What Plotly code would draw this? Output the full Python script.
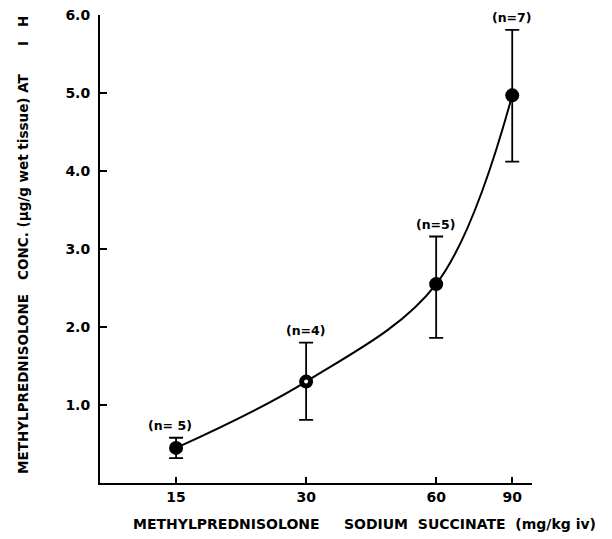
import numpy as np
import plotly.graph_objects as go

dose = [15, 30, 60, 90]
conc = [0.45, 1.30, 2.55, 4.97]
err_plus = [0.13, 0.50, 0.61, 0.84]
err_minus = [0.13, 0.49, 0.69, 0.85]
n_labels = ["(n= 5)", "(n=4)", "(n=5)", "(n=7)"]
x_ticks = [15, 30, 60, 90]
x_ticktext = ["15", "30", "60", "90"]
y_ticks = [1, 2, 3, 4, 5, 6]
y_ticktext = ["1.0", "2.0", "3.0", "4.0", "5.0", "6.0"]

FONT = "DejaVu Sans"
NB = "\u00a0"

fig = go.Figure()
fig.add_trace(go.Scatter(
    x=dose, y=conc, mode="lines",
    line=dict(color="black", width=2, shape="spline", smoothing=1.0),
    hoverinfo="skip", showlegend=False))
fig.add_trace(go.Scatter(
    x=dose, y=conc, mode="markers",
    marker=dict(color="black", size=14, line=dict(width=0)),
    error_y=dict(type="data", symmetric=False, array=err_plus, arrayminus=err_minus,
                 color="black", thickness=1.8, width=7),
    showlegend=False))
fig.add_trace(go.Scatter(
    x=[dose[1]], y=[conc[1]], mode="markers",
    marker=dict(color="white", size=4), showlegend=False, hoverinfo="skip"))

for d, c, ep, lab in zip(dose, conc, err_plus, n_labels):
    fig.add_annotation(x=np.log10(d), y=c + ep, text=lab, showarrow=False,
                       yanchor="bottom", yshift=3, xshift=-6 if d == 15 else 0,
                       font=dict(family=FONT, size=12.5, color="black", weight="bold"))

x_title = (f"METHYLPREDNISOLONE{NB*5}SODIUM{NB*2}SUCCINATE{NB*2}(mg/kg{NB}iv)")
y_title = (f"METHYLPREDNISOLONE{NB*3}CONC.{NB}(µg/g{NB}wet{NB}tissue){NB}AT"
           f"{NB*6}I{NB*3}H")

fig.add_annotation(xref="paper", yref="paper", x=0.612, y=-0.088,
                   text=x_title, showarrow=False, xanchor="center", yanchor="middle",
                   font=dict(family=FONT, size=14, color="black", weight="bold"))
fig.add_annotation(xref="paper", yref="paper", x=-0.178, y=0.509,
                   text=y_title, textangle=-90, showarrow=False,
                   xanchor="center", yanchor="middle",
                   font=dict(family=FONT, size=13.5, color="black", weight="bold"))

fig.update_xaxes(type="log", range=[1, 2], tickvals=x_ticks, ticktext=x_ticktext,
                 ticks="inside", ticklen=6, tickwidth=2, tickcolor="black",
                 showline=True, linecolor="black", linewidth=2, showgrid=False,
                 zeroline=False, ticklabeloverflow="allow", automargin=False,
                 tickfont=dict(family=FONT, size=14, color="black", weight="bold"))
fig.update_yaxes(range=[0, 6.0], tickvals=y_ticks, ticktext=y_ticktext,
                 ticks="inside", ticklen=7, tickwidth=2, tickcolor="black",
                 showline=True, linecolor="black", linewidth=2, showgrid=False,
                 zeroline=False, ticklabelstandoff=5, ticklabeloverflow="allow",
                 automargin=False,
                 tickfont=dict(family=FONT, size=14, color="black", weight="bold"))

fig.update_layout(width=612, height=539, plot_bgcolor="white", paper_bgcolor="white",
                  margin=dict(l=92, r=88, t=7, b=64, autoexpand=False), showlegend=False)

fig.write_html("out.html")
